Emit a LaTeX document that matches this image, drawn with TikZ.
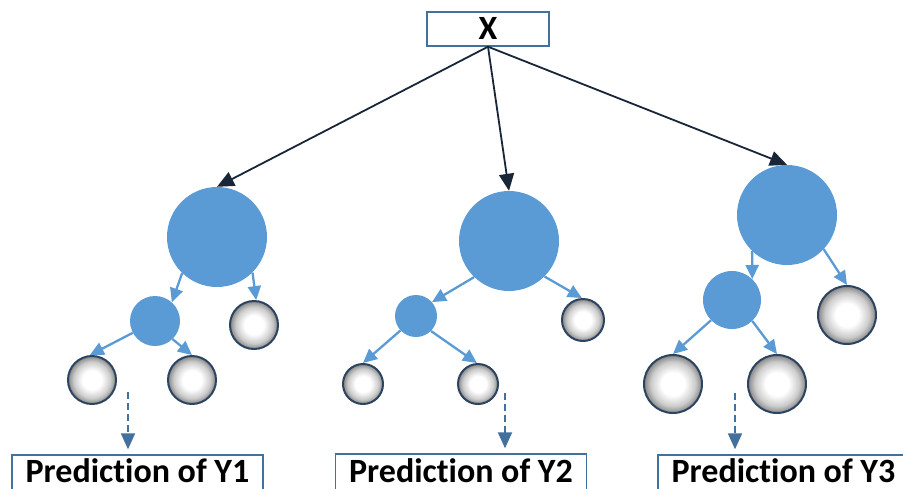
\documentclass[tikz,border=0pt]{standalone}
\usepackage{fontspec}
\setmainfont{Carlito}[Ligatures=NoCommon]
\usetikzlibrary{arrows.meta}
\definecolor{nodeblue}{RGB}{91,155,213}
\definecolor{boxblue}{RGB}{65,113,156}
\definecolor{leafedge}{RGB}{45,68,96}
\definecolor{navy}{RGB}{24,38,56}
\pgfdeclareradialshading{leafball}{\pgfpoint{0bp}{0bp}}{color(0bp)=(white); color(10bp)=(white); color(19bp)=(gray!40); color(25bp)=(gray!95); color(50bp)=(gray!95)}
\begin{document}
\begin{tikzpicture}[x=1pt,y=-1pt,
  tbox/.style={draw=boxblue, line width=1.4pt, fill=white, inner sep=0pt},
  tlabel/.style={inner sep=0pt, font=\bfseries\fontsize{34}{38}\selectfont},
  split/.style={circle, fill=nodeblue, inner sep=0pt},
  leaf/.style={circle, draw=leafedge, line width=2pt, shade, shading=leafball, inner sep=0pt},
  mainarrow/.style={draw=navy, line width=1.8pt, -{Triangle[length=17pt,width=15pt]}},
  subarrow/.style={draw=nodeblue, line width=2.3pt, -{Triangle[length=14pt,width=13pt]}},
  predarrow/.style={draw=boxblue, line width=2pt, dash pattern=on 7pt off 4pt,
    -{Triangle[length=16pt,width=14pt]}, shorten >=5pt}
]
\clip (0,0) rectangle (903,488);
\fill[white] (0,0) rectangle (903,488);

% root box
\node[tbox, font=\bfseries\fontsize{34}{38}\selectfont, minimum width=122pt, minimum height=34pt, text height=21.5pt, text depth=0pt] (X) at (488,29) {X};

% tree 1
\node[split, minimum size=100pt] (r1) at (217,237) {};
\node[split, minimum size=50pt] (s1) at (155,321) {};
\node[leaf, minimum size=48pt] (g1) at (254,325) {};
\node[leaf, minimum size=48pt] (a1) at (92,380) {};
\node[leaf, minimum size=48pt] (b1) at (192,380) {};

% tree 2
\node[split, minimum size=100pt] (r2) at (509,241) {};
\node[split, minimum size=42pt] (s2) at (416,316) {};
\node[leaf, minimum size=42pt] (g2) at (583,320) {};
\node[leaf, minimum size=40pt] (a2) at (363,384) {};
\node[leaf, minimum size=40pt] (b2) at (478,384) {};

% tree 3
\node[split, minimum size=100pt] (r3) at (787,215) {};
\node[split, minimum size=58pt] (s3) at (732,300) {};
\node[leaf, minimum size=58pt] (g3) at (847,315) {};
\node[leaf, minimum size=58pt] (a3) at (673,384) {};
\node[leaf, minimum size=58pt] (b3) at (777,384) {};

% prediction boxes (bottom edge runs past the picture, as in the reference)
\node[tbox, minimum width=251pt, minimum height=42pt] (p1) at (137.5,476) {};
\node[tbox, minimum width=251pt, minimum height=44pt] (p2) at (461,476) {};
\node[tbox, minimum width=251pt, minimum height=42pt] (p3) at (783.5,476) {};
\node[tlabel, anchor=base] (t1) at (137.5,482) {Prediction of Y1};
\node[tlabel, anchor=base] (t2) at (461,482) {Prediction of Y2};
\node[tlabel, anchor=base] (t3) at (783.5,482) {Prediction of Y3};

% main arrows
\draw[mainarrow] (X.south) -- (r1.north);
\draw[mainarrow] (X.south) -- (r2.north);
\draw[mainarrow] (X.south) -- (r3.north);

% subtree arrows
\draw[subarrow] (r1.-134) -- (s1.48);
\draw[subarrow] (r1.-45) -- (g1.85);
\draw[subarrow] (s1.-152) -- (a1.95);
\draw[subarrow] (s1.-46) -- (b1.90);

\draw[subarrow] (r2.-134) -- (s2.41);
\draw[subarrow] (r2.-45) -- (g2.93);
\draw[subarrow] (s2.-137) -- (a2.90);
\draw[subarrow] (s2.-45) -- (b2.93);

\draw[subarrow] (r3.-134) -- (s3.46);
\draw[subarrow] (r3.-43) -- (g3.90);
\draw[subarrow] (s3.-136) -- (a3.90);
\draw[subarrow] (s3.-46) -- (b3.90);

% dashed prediction arrows
\coordinate (d1) at (128,392);
\coordinate (d2) at (505,393);
\coordinate (d3) at (735,393);
\draw[predarrow] (d1) -- (d1 |- p1.north);
\draw[predarrow] (d2) -- (d2 |- p2.north);
\draw[predarrow] (d3) -- (d3 |- p3.north);
\end{tikzpicture}
\end{document}
